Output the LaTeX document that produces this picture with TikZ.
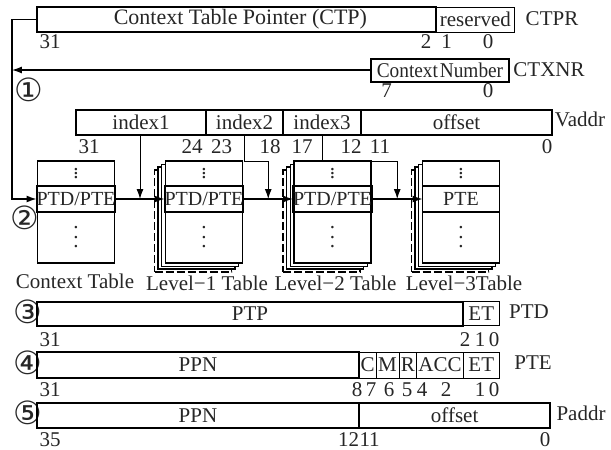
\documentclass[tikz,border=0pt]{standalone}
\usepackage{fontspec}
\setmainfont{Liberation Serif}
\newfontfamily\circfont{DejaVu Sans}
\usepackage{tikz}
\usetikzlibrary{arrows.meta,positioning,shadows,calc}
\newcommand{\rowdots}[1]{\vbox{\baselineskip#1\lineskiplimit0pt\hbox{.}\hbox{.}\hbox{.}}}
\tikzset{
  regfield/.style={
    rectangle,
    draw=black,
    line width=2pt,
    inner sep=0pt,
    outer sep=0pt,
    minimum height=25pt
  },
  subfield/.style={
    rectangle,
    draw=black,
    line width=0.9pt,
    inner sep=0pt,
    outer sep=0pt,
    minimum height=25pt
  },
  addrfield/.style={
    rectangle,
    draw=black,
    line width=1.4pt,
    inner sep=0pt,
    outer sep=0pt,
    minimum height=25pt
  },
  tableframe/.style={
    rectangle,
    draw=black,
    fill=white,
    line width=1.6pt,
    inner sep=0pt,
    outer sep=0pt,
    minimum width=77pt,
    minimum height=102pt
  },
  tablestack/.style={
    tableframe,
    copy shadow={shadow xshift=-11pt, shadow yshift=-9pt, line width=1.8pt, dash pattern=on 8pt off 3pt},
    copy shadow={shadow xshift=-7.5pt, shadow yshift=-6pt, line width=1.2pt},
    copy shadow={shadow xshift=-4pt, shadow yshift=-3pt, line width=0.8pt}
  },
  tablerow/.style={
    rectangle,
    draw=black,
    line width=1.6pt,
    inner sep=0pt,
    outer sep=0pt,
    minimum width=77pt,
    minimum height=26pt,
    font=\fontsize{20}{22}\selectfont
  },
  dotsrow/.style={inner sep=0pt, outer sep=0pt, minimum width=77pt},
  reglabel/.style={inner sep=0pt},
  tablename/.style={inner sep=0pt},
  bitno/.style={inner sep=0pt},
  stepno/.style={inner sep=0pt, font=\circfont\fontsize{32}{32}\selectfont},
  link/.style={-{Latex[length=10pt,width=7pt]}, line width=1.3pt},
  idxlink/.style={-{Latex[length=10pt,width=7pt]}, line width=1pt}
}

\begin{document}
\begin{tikzpicture}[x=1pt, y=-1pt, font=\fontsize{21}{24}\selectfont, text=black!85]
  \useasboundingbox (0,0) rectangle (611,450);

  % CTPR
  \node[regfield, minimum width=399pt, font=\fontsize{22}{24}\selectfont] (ctp) at (236.4,19.5) {\hspace{8pt}Context Table Pointer (CTP)};
  \node[subfield, minimum width=79pt, right=0pt of ctp] (rsv) {reserved};
  \node[reglabel] (ctprlbl) at (552,19) {CTPR};
  \foreach \b/\x in {31/50, 2/426, 1/446.7, 0/488}
    \node[bitno] (ctprb\b) at (\x,42) {\b};

  % CTXNR
  \node[regfield, minimum width=138pt, minimum height=23pt] (ctxn) at (440,70) {\scalebox{0.92}[1]{Context\hspace{2pt}Number}};
  \node[reglabel] (ctxnrlbl) at (549,70) {CTXNR};
  \foreach \b/\x in {7/386.7, 0/488}
    \node[bitno] (ctxnrb\b) at (\x,91) {\b};
  \coordinate (rail) at ([xshift=-25pt]ctp.west);
  \node[stepno] (s1) at (29,90) {①};

  % Vaddr
  \node[addrfield, minimum width=130pt] (idx1) at (141,122.5) {index1};
  \node[addrfield, minimum width=77pt, right=0pt of idx1] (idx2) {index2};
  \node[addrfield, minimum width=78pt, right=0pt of idx2] (idx3) {index3};
  \node[addrfield, minimum width=191pt, right=0pt of idx3] (voff) {offset};
  \node[reglabel] (vaddrlbl) at (580,119) {Vaddr};
  \foreach \b/\x in {31/89, 24/192, 23/221.5, 18/270, 17/302, 12/351, 11/380, 0/547}
    \node[bitno] (vaddrb\b) at (\x,147) {\b};

  % tables
  \node[tableframe] (ct) at (76,212) {};
  \node[tablerow, below=25pt of ct.north] (ctrow) {PTD/PTE};
  \node[dotsrow, minimum height=25pt, above=0pt of ctrow] (cttop) {\rowdots{4pt}};
  \node[dotsrow, minimum height=51pt, below=0pt of ctrow] (ctlow) {\rowdots{9.5pt}};
  \node[tablename] (ctname) at (75,281) {Context Table};
  \foreach \t/\cx/\entry/\title in {la/204/{PTD/PTE}/{Level−1 Table}, lb/332.5/{PTD/PTE}/{Level−2 Table}, lc/461/PTE/{Level−3Table}} {
    \node[tablestack] (\t) at (\cx,212) {};
    \node[tablerow, below=25pt of \t.north] (\t row) {\entry};
    \node[dotsrow, minimum height=25pt, above=0pt of \t row] (\t top) {\rowdots{4pt}};
    \node[dotsrow, minimum height=51pt, below=0pt of \t row] (\t low) {\rowdots{9.5pt}};
    \node[tablename] (\t name) at ([xshift=3pt,yshift=-20pt]\t.south) {\title};
  }
  \node[stepno] (s2) at (25,218) {②};

  \draw[link] (ctp.west) -- (rail) |- (ctrow.west);
  \draw[link] (ctxn.west) -- (ctxn.west -| rail);
  \draw[link] (ctrow.east) -- coordinate[midway] (j1) (larow.west);
  \draw[link] (larow.east) -- coordinate[midway] (j2) (lbrow.west);
  \draw[link] (lbrow.east) -- coordinate[midway] (j3) (lcrow.west);
  \draw[idxlink] (j1 |- idx1.south) -- (j1);
  \draw[idxlink] (idx2.south) -- ++(0,26) -| (j2);
  \draw[idxlink] (idx3.south) -- ++(0,26) -| (j3);

  % PTD
  \node[stepno] (s3) at (28,312) {③};
  \node[regfield, minimum width=426.6pt, minimum height=24pt] (ptp) at (250,313.5) {PTP};
  \node[subfield, minimum width=36pt, minimum height=24pt, right=0pt of ptp] (et1) {ET};
  \node[reglabel] (ptdlbl) at (529,312) {PTD};
  \foreach \b/\x in {31/50, 2/465, 1/480, 0/494}
    \node[bitno] (ptdb\b) at (\x,340) {\b};

  % PTE
  \node[stepno] (s4) at (28,363) {④};
  \node[regfield, minimum width=322.6pt, minimum height=26pt] (ppn) at (198,365) {PPN};
  \node[subfield, minimum width=16.7pt, minimum height=26pt, right=0pt of ppn] (cbit) {C};
  \node[subfield, minimum width=23pt, minimum height=26pt, right=0pt of cbit] (mbit) {M};
  \node[subfield, minimum width=17.7pt, minimum height=26pt, right=0pt of mbit] (rbit) {R};
  \node[subfield, minimum width=46.6pt, minimum height=26pt, right=0pt of rbit] (acc) {ACC};
  \node[subfield, minimum width=36pt, minimum height=26pt, right=0pt of acc] (et2) {ET};
  \node[reglabel] (ptelbl) at (533,363) {PTE};
  \foreach \b/\x in {31/50, 8/357, 7/371, 6/389, 5/407, 4/422, 2/446, 1/480, 0/494}
    \node[bitno] (pteb\b) at (\x,390) {\b};

  % Paddr
  \node[stepno] (s5) at (28,413) {⑤};
  \node[addrfield, line width=1.7pt, minimum width=322.6pt] (pppn) at (198,415.5) {PPN};
  \node[addrfield, minimum width=190.7pt, right=0pt of pppn] (poff) {offset};
  \node[reglabel] (paddrlbl) at (581,413) {Paddr};
  \node[bitno] (paddrb35) at (50,440) {35};
  \node[bitno, anchor=east] (paddrb12) at (pppn.south east |- 0,440) {12};
  \node[bitno, anchor=west] (paddrb11) at (pppn.south east |- 0,440) {11};
  \node[bitno] (paddrb0) at (545,440) {0};
\end{tikzpicture}
\end{document}
